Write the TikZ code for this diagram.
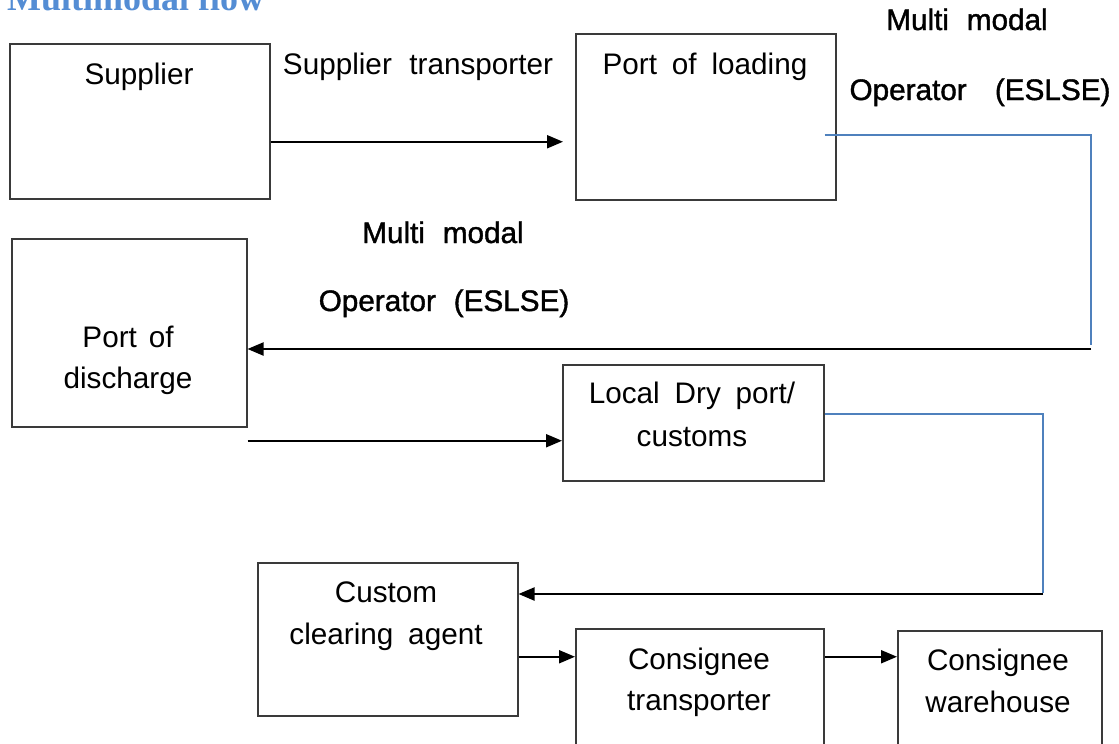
\documentclass[tikz,border=0pt]{standalone}
\usepackage{fontspec}
\setmainfont{Liberation Sans}
\newfontfamily\titlefont{Liberation Serif}
\newfontfamily\mmfont[FakeBold=1.3]{Liberation Sans}
\usetikzlibrary{arrows.meta,calc}
\definecolor{titleblue}{HTML}{548DD4}
\definecolor{lineblue}{HTML}{4F81BD}
\definecolor{boxgray}{HTML}{3A3A3A}
\newcommand\ws{\hspace{0.5em}}
\tikzset{
  boxnode/.style={draw=boxgray, line width=1.5pt, anchor=north west, inner sep=0pt},
  txt/.style={anchor=base, inner sep=0pt, font=\fontsize{29.7pt}{34pt}\selectfont},
  mmtxt/.style={anchor=base, inner sep=0pt, font=\fontsize{29.7pt}{34pt}\mmfont},
  arr/.style={line width=2pt, -{Triangle[length=16pt,width=13pt]}},
  blueline/.style={draw=lineblue, line width=1.7pt},
}
\begin{document}
\begin{tikzpicture}[x=1pt,y=1pt]
\clip (0,0) rectangle (1119,-744);
% title
\node[anchor=base west, inner sep=0pt, text=titleblue, font=\fontsize{36pt}{40pt}\titlefont\bfseries] (title) at (7,-10) {Multimodal flow};
% boxes
\node[boxnode, minimum width=260pt, minimum height=155pt] (sup) at (9,-43) {};
\node[boxnode, minimum width=260pt, minimum height=166pt] (pol) at (575,-33) {};
\node[boxnode, minimum width=235pt, minimum height=188pt] (pod) at (11,-238) {};
\node[boxnode, minimum width=261pt, minimum height=116pt] (ldp) at (562,-364) {};
\node[boxnode, minimum width=260pt, minimum height=153pt] (cca) at (257,-562) {};
\node[boxnode, minimum width=248pt, minimum height=140pt] (ct) at (575,-628) {};
\node[boxnode, minimum width=204pt, minimum height=140pt] (cw) at (897,-630) {};
% box texts
\node[txt] (tsup) at (139,-84) {Supplier};
\node[txt] (tpol) at (705,-74) {Port\ws of\ws loading};
\node[txt] (tpod1) at (128,-347) {Port\hspace{0.4em}of};
\node[txt] (tpod2) at (128,-388) {discharge};
\node[txt] (tldp1) at (692,-403) {Local\ws Dry\ws port/};
\node[txt] (tldp2) at (692,-446) {customs};
\node[txt] (tcca1) at (386,-602) {Custom};
\node[txt] (tcca2) at (386,-644) {clearing\ws agent};
\node[txt] (tct1) at (699,-669) {Consignee};
\node[txt] (tct2) at (699,-710) {transporter};
\node[txt] (tcw1) at (998,-670) {Consignee};
\node[txt] (tcw2) at (998,-712) {warehouse};
% labels
\node[txt] (lst) at (418,-74) {Supplier\hspace{0.59em}transporter};
\node[mmtxt] (lmm1) at (967,-30) {Multi\hspace{0.6em}modal};
\node[mmtxt] (lop1) at (980,-100) {Operator\hspace{0.95em}(ESLSE)};
\node[mmtxt] (lmm2) at (443,-243) {Multi\hspace{0.6em}modal};
\node[mmtxt] (lop2) at (444,-311) {Operator\hspace{0.6em}(ESLSE)};
% connectors
\coordinate (s1) at ([yshift=-20.5pt]sup.east);
\draw[arr, shorten >=12pt] (s1) -- (s1 -| pol.west);
\coordinate (r1) at (1091,-349);
\draw[blueline] ([xshift=-12pt,yshift=-18pt]pol.east) -| ([yshift=4pt]r1);
\draw[arr] (r1) -- (r1 -| pod.east);
\coordinate (s3) at ([yshift=-108pt]pod.east);
\draw[arr] (s3) -- (s3 -| ldp.west);
\coordinate (r2) at (1043,-594);
\draw[blueline] ([yshift=9pt]ldp.east) -| ([yshift=1pt]r2);
\draw[arr] (r2) -- (r2 -| cca.east);
\coordinate (s5) at ([yshift=-17.5pt]cca.east);
\draw[arr] (s5) -- (s5 -| ct.west);
\draw[arr] (s5 -| ct.east) -- (s5 -| cw.west);
\end{tikzpicture}
\end{document}
